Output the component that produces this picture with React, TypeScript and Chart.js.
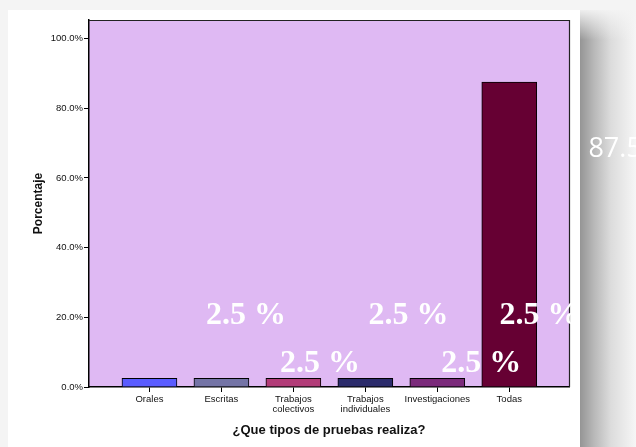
import React, { useEffect, useRef } from "react";
import { Chart, registerables } from "chart.js";

Chart.register(...registerables);

const categories: string[][] = [
  ["Orales"],
  ["Escritas"],
  ["Trabajos", "colectivos"],
  ["Trabajos", "individuales"],
  ["Investigaciones"],
  ["Todas"],
];
const percentages = [2.5, 2.5, 2.5, 2.5, 2.5, 87.5];
const barColors = ["#5a5cff", "#7474a6", "#b23c78", "#2b2b6b", "#7b2a7b", "#660033"];
const yTicks = [0, 20, 40, 60, 80, 100];
const yMax = 105.3;
const xTitle = "¿Que tipos de pruebas realiza?";
const yTitle = "Porcentaje";

// floating overlay labels (as in the source picture), positioned in data units
const overlayLabels = ["2.5 %", "2.5 %", "2.5 %", "2.5 %", "2.5 %"];
const overlayX = [1.34, 3.6, 5.42, 2.37, 4.61];
const overlayY = [18.1, 18.1, 18.1, 4.3, 4.3];
const sideLabel = "87.5 %";
const sideLabelX = 6.1;
const sideLabelY = 66.1;

const overlayPlugin = {
  id: "overlay",
  beforeDraw(chart: any) {
    const { ctx, chartArea: a } = chart;
    ctx.save();
    ctx.fillStyle = "#dfb9f3";
    ctx.fillRect(a.left, a.top, a.right - a.left, a.bottom - a.top);
    ctx.restore();
  },
  afterDraw(chart: any) {
    const { ctx, chartArea: a, scales } = chart;
    ctx.save();
    ctx.strokeStyle = "#222";
    ctx.lineWidth = 1.2;
    ctx.beginPath();
    ctx.moveTo(a.left, a.top + 0.5);
    ctx.lineTo(a.right + 0.5, a.top + 0.5);
    ctx.lineTo(a.right + 0.5, a.bottom);
    ctx.stroke();
    ctx.restore();

    ctx.save();
    ctx.beginPath();
    ctx.rect(0, 0, 578, chart.height);
    ctx.clip();
    ctx.fillStyle = "#ffffff";
    ctx.font = "bold 32px 'Liberation Serif', serif";
    ctx.textAlign = "center";
    ctx.textBaseline = "alphabetic";
    overlayLabels.forEach((t, i) => {
      ctx.fillText(t, scales.x.getPixelForValue(overlayX[i]), scales.y.getPixelForValue(overlayY[i]));
    });
    ctx.restore();

    ctx.save();
    ctx.fillStyle = "#ffffff";
    ctx.font = "27px 'Open Sans', sans-serif";
    ctx.textAlign = "left";
    ctx.textBaseline = "alphabetic";
    ctx.fillText(sideLabel, scales.x.getPixelForValue(sideLabelX), scales.y.getPixelForValue(sideLabelY));
    ctx.restore();
  },
};

export default function App() {
  const ref = useRef<HTMLCanvasElement>(null);
  useEffect(() => {
    document.body.style.margin = "0";
    const chart = new Chart(ref.current!, {
      type: "bar",
      data: {
        datasets: [
          {
            data: percentages.map((v, i) => ({ x: i, y: v })) as any,
            backgroundColor: barColors,
            borderColor: "#000",
            borderWidth: 1,
            barThickness: 55,
          },
        ],
      },
      options: {
        animation: false,
        responsive: false,
        events: [],
        layout: { padding: { left: 0, right: 67, top: 20, bottom: 0 } },
        plugins: { legend: { display: false }, tooltip: { enabled: false } },
        scales: {
          x: {
            type: "linear",
            min: -0.84,
            max: 5.83,
            offset: false,
            afterBuildTicks: (axis: any) => {
              axis.ticks = categories.map((_, i) => ({ value: i }));
            },
            afterFit: (axis: any) => {
              axis.height = 60;
            },
            ticks: {
              autoSkip: false,
              maxRotation: 0,
              padding: 2,
              color: "#111",
              font: { family: "'Liberation Sans', Arial, sans-serif", size: 9.5, lineHeight: 1.1 },
              callback: (v: any) => categories[Math.round(Number(v))] ?? "",
            },
            grid: { display: true, offset: false, drawOnChartArea: false, drawTicks: true, tickLength: 5, color: "#000", lineWidth: 1 },
            border: { display: true, color: "#000", width: 1.5 },
            title: {
              display: true,
              text: xTitle,
              color: "#111",
              font: { family: "'Liberation Sans', Arial, sans-serif", size: 13, weight: "bold" },
              padding: { top: 0, bottom: 9 },
            },
          },
          y: {
            type: "linear",
            min: 0,
            max: yMax,
            afterBuildTicks: (axis: any) => {
              axis.ticks = yTicks.map((v) => ({ value: v }));
            },
            afterFit: (axis: any) => {
              axis.width = 89;
            },
            ticks: {
              padding: 1,
              color: "#111",
              font: { family: "'Liberation Sans', Arial, sans-serif", size: 9.5 },
              callback: (v: any) => Number(v).toFixed(1) + "%",
            },
            grid: { display: true, drawOnChartArea: false, drawTicks: true, tickLength: 5, color: "#000", lineWidth: 1 },
            border: { display: true, color: "#000", width: 1.5 },
            title: {
              display: true,
              text: yTitle,
              color: "#111",
              font: { family: "'Liberation Sans', Arial, sans-serif", size: 12, weight: "bold" },
              padding: { top: 31, bottom: 0 },
            },
          },
        },
      },
      plugins: [overlayPlugin],
    });
    return () => chart.destroy();
  }, []);

  return (
    <div style={{ position: "fixed", left: 0, top: 0, width: 636, height: 447, background: "#f4f4f4", overflow: "hidden" }}>
      <div style={{ position: "absolute", left: 8, top: 10, width: 572, height: 437, background: "#ffffff" }} />
      <div
        style={{
          position: "absolute",
          left: 580,
          top: 10,
          width: 56,
          height: 437,
          background: "linear-gradient(to right, #959595 0%, #b8b8b8 25%, #dcdcdc 55%, #f6f6f6 100%)",
        }}
      />
      <div
        style={{
          position: "absolute",
          left: 580,
          top: 0,
          width: 56,
          height: 40,
          background: "linear-gradient(to bottom, rgba(244,244,244,1) 20%, rgba(244,244,244,0) 100%)",
        }}
      />
      <canvas ref={ref} width={636} height={447} style={{ position: "absolute", left: 0, top: 0 }} />
    </div>
  );
}
